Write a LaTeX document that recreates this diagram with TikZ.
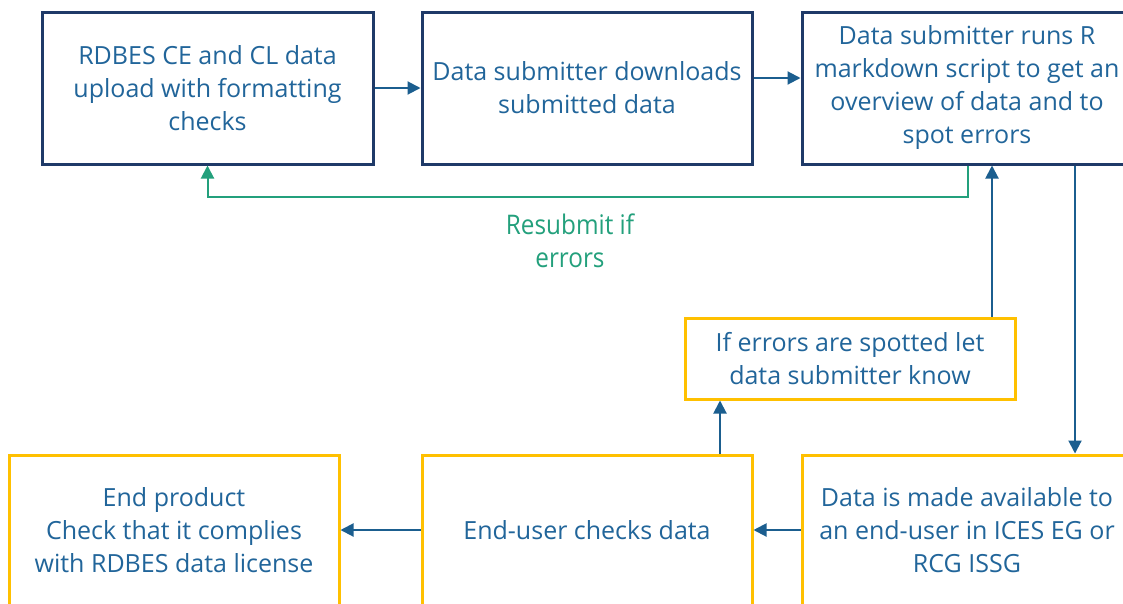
\documentclass[tikz,border=0pt]{standalone}
\usepackage{fontspec}
\setmainfont{Open Sans}
\newfontfamily\condfont[FakeStretch=0.9]{Open Sans}
\usetikzlibrary{arrows.meta}
\definecolor{txtblue}{HTML}{21659A}
\definecolor{arrblue}{HTML}{1B5E8F}
\definecolor{navy}{HTML}{1F3A68}
\definecolor{gold}{HTML}{FFC000}
\definecolor{teal}{HTML}{23A07C}
\tikzset{
  box/.style={draw, line width=3pt, align=center, text=txtblue, inner sep=0pt,
    font=\fontsize{25}{33}\selectfont},
  topbox/.style={box, draw=navy, minimum width=330pt, minimum height=152pt},
  ybox/.style={box, draw=gold, minimum width=330pt, minimum height=150pt},
  arr/.style={draw=arrblue, line width=2pt, -{Triangle[length=13pt,width=13pt]}},
  garr/.style={draw=teal, line width=2pt, -{Triangle[length=13pt,width=13pt]}},
}
\begin{document}
\begin{tikzpicture}[x=1pt,y=-1pt]
\clip (0,0) rectangle (1123,603);
\fill[white] (0,0) rectangle (1123,603);
\node[topbox, minimum width=331pt] (b1) at (207.5,88) {RDBES CE and CL data\\upload with formatting\\checks};
\node[topbox] (b2) at (587,88) {Data submitter downloads\\submitted data};
\node[topbox] (b3) at (967,88) {Data submitter runs R\\markdown script to get an\\overview of data and to\\spot errors};
\node[ybox, minimum height=81pt] (err) at (850,358.5) {If errors are spotted let\\data submitter know};
\node[ybox] (e1) at (174,530) {End product\\Check that it complies\\with RDBES data license};
\node[ybox] (e2) at (587,530) {End-user checks data};
\node[ybox] (e3) at (967,530) {Data is made available to\\an end-user in ICES EG or\\RCG ISSG};
\draw[arr] (b1) -- (b2);
\draw[arr] ([yshift=10pt]b2.east) -- ([yshift=10pt]b3.west);
\draw[garr] ([xshift=1pt]b3.south) -- ++(0,31) -| (b1.south);
\node[text=teal, align=center, font=\condfont\fontsize{27}{33}\selectfont] (lab) at (570,241) {Resubmit if\\errors};
\draw[arr] ([xshift=142pt]err.north) -- ([xshift=25pt]b3.south);
\draw[arr] ([xshift=108pt]b3.south) -- ([xshift=108pt]e3.north);
\draw[arr] ([xshift=133pt]e2.north) -- ([xshift=133pt]e2.north |- err.south);
\draw[arr] (e3) -- (e2);
\draw[arr] (e2) -- (e1);
\end{tikzpicture}
\end{document}
